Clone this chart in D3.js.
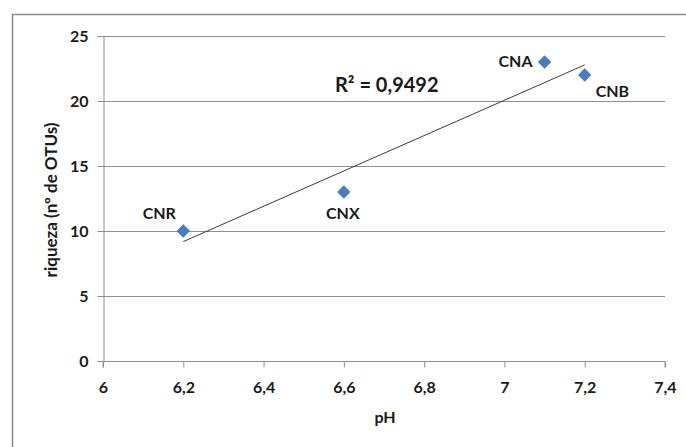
<!DOCTYPE html>
<html><head><meta charset="utf-8">
<script src="https://cdn.jsdelivr.net/npm/d3@7"></script>
<style>body{margin:0;background:#fff;}svg{display:block;font-family:Lato,"Open Sans",sans-serif;}</style>
</head><body>
<svg id="c" width="686" height="447"></svg>
<script>
const names = ["CNR", "CNX", "CNA", "CNB"];
const phValues = [6.2, 6.6, 7.1, 7.2];
const richness = [10, 13, 23, 22];
const xTicks = [6, 6.2, 6.4, 6.6, 6.8, 7, 7.2, 7.4];
const yTicks = [0, 5, 10, 15, 20, 25];
const r2Label = "R² = 0,9492";

const svg = d3.select("#c");
// outer chart border
svg.append("rect").attr("x", 12.5).attr("y", 14.5).attr("width", 700).attr("height", 460)
  .attr("fill", "none").attr("stroke", "#8c8c8c").attr("stroke-width", 1.5);

const x = d3.scaleLinear().domain([6, 7.4]).range([103, 665]);
const y = d3.scaleLinear().domain([0, 25]).range([361, 36]);
const fmt = d => String(d).replace(".", ",");

// gridlines
svg.append("g").selectAll("line").data(yTicks.filter(d => d > 0)).join("line")
  .attr("x1", x(6)).attr("x2", x(7.4))
  .attr("y1", d => Math.round(y(d)) + 0.5).attr("y2", d => Math.round(y(d)) + 0.5)
  .attr("stroke", "#8e8e8e").attr("stroke-width", 1);

// y axis
const ya = svg.append("g").attr("transform", `translate(${x(6) + 0.5},0)`)
  .call(d3.axisLeft(y).tickValues(yTicks).tickSize(6).tickPadding(9).tickFormat(fmt));
// x axis
const xa = svg.append("g").attr("transform", `translate(0,${Math.round(y(0)) + 0.5})`)
  .call(d3.axisBottom(x).tickValues(xTicks).tickSize(6).tickPadding(14).tickFormat(fmt));
[ya, xa].forEach(a => {
  a.select(".domain").attr("stroke", "#8e8e8e");
  a.selectAll(".tick line").attr("stroke", "#8e8e8e");
  a.selectAll("text").attr("font-family", "Lato, 'Open Sans', sans-serif")
    .attr("font-size", 16).attr("font-weight", "bold").attr("fill", "#1a1a1a");
});
xa.select(".domain").attr("d", `M${x(6)},6V0H${x(7.4)}V6`);

// axis titles
svg.append("text").attr("x", 385).attr("y", 423).attr("text-anchor", "middle")
  .attr("font-size", 16).attr("font-weight", "bold").attr("fill", "#1a1a1a").text("pH");
svg.append("text").attr("transform", `translate(57,200) rotate(-90)`).attr("text-anchor", "middle")
  .attr("font-size", 17).attr("font-weight", "bold").attr("fill", "#1a1a1a").text("riqueza (nº de OTUs)");

// linear regression trendline
const n = phValues.length;
const mx = d3.mean(phValues), my = d3.mean(richness);
let sxy = 0, sxx = 0;
for (let i = 0; i < n; i++) { sxy += (phValues[i] - mx) * (richness[i] - my); sxx += (phValues[i] - mx) ** 2; }
const slope = sxy / sxx, icpt = my - slope * mx;
const x0 = d3.min(phValues), x1 = d3.max(phValues);
svg.append("line").attr("x1", x(x0)).attr("y1", y(icpt + slope * x0))
  .attr("x2", x(x1)).attr("y2", y(icpt + slope * x1))
  .attr("stroke", "#3a3a3a").attr("stroke-width", 1);

// markers
const pts = names.map((nm, i) => ({ nm, px: phValues[i], py: richness[i] }));
svg.append("g").selectAll("path").data(pts).join("path")
  .attr("transform", d => `translate(${x(d.px)},${y(d.py)})`)
  .attr("d", d3.symbol().type(d3.symbolDiamond2).size(105))
  .attr("fill", "#4a7ebb").attr("stroke", "#3f6fa8").attr("stroke-width", 0.5);

// data labels
const off = { CNR: [-24, -12, "middle"], CNX: [-1, 27, "middle"], CNA: [-12, 5, "end"], CNB: [11, 22, "start"] };
svg.append("g").selectAll("text").data(pts).join("text")
  .attr("x", d => x(d.px) + off[d.nm][0]).attr("y", d => y(d.py) + off[d.nm][1])
  .attr("text-anchor", d => off[d.nm][2])
  .attr("font-size", 16).attr("font-weight", "bold").attr("fill", "#1a1a1a").text(d => d.nm);

svg.append("text").attr("x", 335).attr("y", 92).attr("font-size", 20).attr("font-weight", "bold")
  .attr("fill", "#1a1a1a").text(r2Label);
</script>
</body></html>
